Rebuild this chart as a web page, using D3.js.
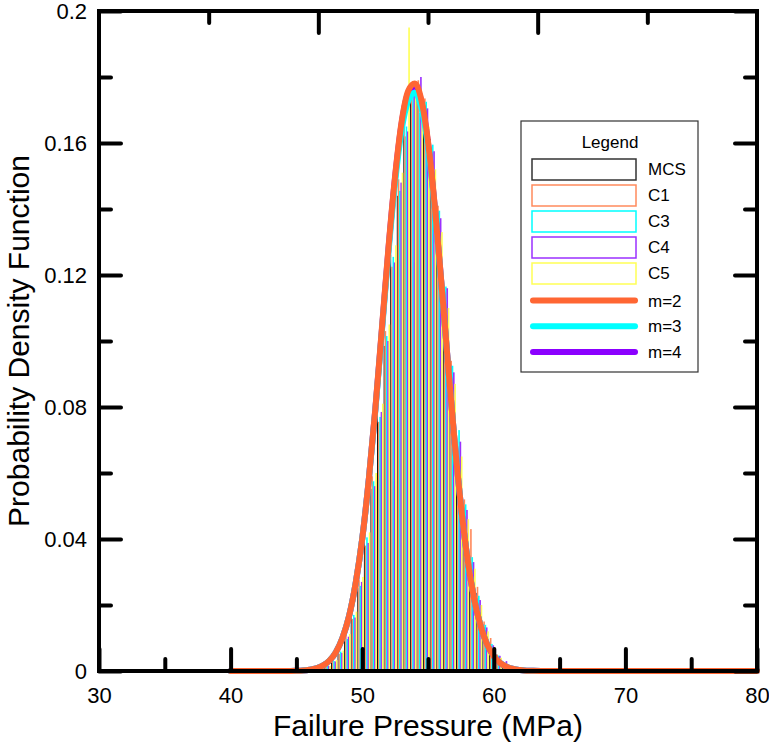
<!DOCTYPE html>
<html>
<head>
<meta charset="utf-8">
<script src="https://cdn.jsdelivr.net/npm/d3@7"></script>
<style>
body { margin: 0; background: #fff; }
text { font-family: "Liberation Sans", Arial, sans-serif; fill: #000; }
</style>
</head>
<body>
<svg width="769" height="742"></svg>
<script>
/* globals d3 */

// histogram bins (left edges, MPa)
const binWidth = 0.5;
const binLefts = d3.range(46.6, 62.6, binWidth);

const seriesNames = ['MCS', 'C1', 'C3', 'C4', 'C5'];
const seriesColors = ['#000000', '#ff8a5c', '#00ffff', '#9b30ff', '#ffff55'];

const mcs = [0.0006, 0.0018, 0.0028, 0.0060, 0.0094, 0.0172, 0.0251, 0.0410, 0.0552, 0.0790, 0.0985, 0.1262, 0.1440, 0.1668, 0.1735, 0.1760,
    0.1702, 0.1612, 0.1360, 0.1180, 0.0890, 0.0712, 0.0500, 0.0352, 0.0236, 0.0128, 0.0084, 0.0040, 0.0026, 0.0010, 0.0005, 0.0002];
const c1 = [0.0009, 0.0014, 0.0034, 0.0052, 0.0108, 0.0158, 0.0275, 0.0380, 0.0590, 0.0755, 0.1030, 0.1225, 0.1490, 0.1620, 0.1770, 0.1790,
    0.1735, 0.1560, 0.1410, 0.1125, 0.0940, 0.0668, 0.0520, 0.0430, 0.0255, 0.0150, 0.0100, 0.0050, 0.0020, 0.0014, 0.0004, 0.0003];
const c3 = [0.0007, 0.0017, 0.0030, 0.0059, 0.0097, 0.0170, 0.0258, 0.0405, 0.0575, 0.0770, 0.1015, 0.1255, 0.1455, 0.1650, 0.1745, 0.1692,
    0.1725, 0.1595, 0.1395, 0.1165, 0.0925, 0.0730, 0.0505, 0.0345, 0.0228, 0.0140, 0.0082, 0.0047, 0.0025, 0.0011, 0.0006, 0.0002];
const c4 = [0.0010, 0.0015, 0.0029, 0.0055, 0.0104, 0.0162, 0.0270, 0.0388, 0.0560, 0.0785, 0.1000, 0.1238, 0.1480, 0.1635, 0.1760, 0.1800,
    0.1705, 0.1575, 0.1372, 0.1160, 0.0905, 0.0695, 0.0488, 0.0330, 0.0215, 0.0132, 0.0078, 0.0046, 0.0030, 0.0015, 0.0008, 0.0004];
const c5 = [0.0008, 0.0016, 0.0033, 0.0062, 0.0112, 0.0180, 0.0285, 0.0420, 0.0600, 0.0810, 0.1050, 0.1290, 0.1510, 0.1950, 0.1740, 0.1710,
    0.1650, 0.1520, 0.1330, 0.1100, 0.0870, 0.0650, 0.0460, 0.0310, 0.0200, 0.0120, 0.0070, 0.0040, 0.0020, 0.0010, 0.0005, 0.0002];
const seriesValues = [mcs, c1, c3, c4, c5];

// fitted PDF curves
const curveX = [40, 44, 44.5, 45, 45.5, 46, 46.5, 47, 47.5, 48, 48.5, 49, 49.5, 50, 50.5, 51, 51.5, 52, 52.5, 53, 53.5,
    54, 54.5, 55, 55.5, 56, 56.5, 57, 57.5, 58, 58.5, 59, 59.5, 60, 60.5, 61, 61.5, 62, 62.5, 63, 64, 80];
const m2 = [0, 0.00001, 0.00003, 0.00007, 0.00017, 0.0004, 0.0008, 0.0016, 0.0031, 0.0057, 0.0100, 0.0166, 0.0265, 0.0400, 0.0580, 0.0795, 0.1040, 0.1285, 0.1500, 0.1665, 0.1758,
    0.1780, 0.1730, 0.1605, 0.1415, 0.1185, 0.0940, 0.0705, 0.0502, 0.0340, 0.0220, 0.0136, 0.0080, 0.0045, 0.0024, 0.0012, 0.0006, 0.0003, 0.0001, 0.00005, 0, 0];
const m3 = [0, 0.00001, 0.00003, 0.00007, 0.00017, 0.0004, 0.0008, 0.0016, 0.0031, 0.0057, 0.0100, 0.0166, 0.0265, 0.0400, 0.0578, 0.0790, 0.1030, 0.1270, 0.1480, 0.1640, 0.1728,
    0.1752, 0.1705, 0.1590, 0.1405, 0.1180, 0.0938, 0.0705, 0.0502, 0.0340, 0.0220, 0.0136, 0.0080, 0.0045, 0.0024, 0.0012, 0.0006, 0.0003, 0.0001, 0.00005, 0, 0];
const m4 = [0, 0.00001, 0.00003, 0.00007, 0.00017, 0.0004, 0.0008, 0.0016, 0.0031, 0.0057, 0.0100, 0.0166, 0.0265, 0.0400, 0.0580, 0.0793, 0.1036, 0.1280, 0.1495, 0.1660, 0.1752,
    0.1772, 0.1724, 0.1600, 0.1412, 0.1183, 0.0940, 0.0705, 0.0502, 0.0340, 0.0220, 0.0136, 0.0080, 0.0045, 0.0024, 0.0012, 0.0006, 0.0003, 0.0001, 0.00005, 0, 0];
const curveNames = ['m=2', 'm=3', 'm=4'];
const curveColors = ['#ff6633', '#00ffff', '#8b00ff'];
const curveValues = [m2, m3, m4];

// axis ticks
const xMajor = [30, 40, 50, 60, 70, 80];
const xMinor = [35, 45, 55, 65, 75];
const yMajor = [0, 0.04, 0.08, 0.12, 0.16, 0.2];
const yMinor = [0.02, 0.06, 0.1, 0.14, 0.18];
const yLabels = ['0', '0.04', '0.08', '0.12', '0.16', '0.2'];

const svg = d3.select('svg');
const plotLeft = 99;
const plotRight = 757;
const plotTop = 11;
const plotBottom = 671;

const x = d3.scaleLinear().domain([30, 80]).range([plotLeft, plotRight]);
const y = d3.scaleLinear().domain([0, 0.2]).range([plotBottom, plotTop]);
const sub = d3.scaleBand().domain(seriesNames).range([0, x(30 + binWidth) - x(30)]);
const topScale = d3.scaleLinear().domain([0, 6]).range([plotLeft, plotRight]);

// bars: the MCS stripe is partly covered by its neighbours
seriesNames.forEach((name, s) => {
    const w = s === 0 ? sub.bandwidth() * 0.7 : sub.bandwidth() + 0.3;
    svg.append('g')
    .selectAll('rect')
    .data(binLefts.map((b, i) => ({b: b, v: seriesValues[s][i]})))
    .enter().append('rect')
    .attr('x', d => x(d.b) + sub(name) + (s === 0 ? sub.bandwidth() * 0.3 : 0))
    .attr('y', d => y(d.v))
    .attr('width', w)
    .attr('height', d => y(0) - y(d.v))
    .attr('fill', seriesColors[s]);
});

// curves, m=2 on top
const line = d3.line()
.x(d => x(d[0]))
.y(d => y(d[1]))
.curve(d3.curveMonotoneX);

[2, 1, 0].forEach(k => {
    svg.append('path')
    .datum(curveX.map((v, i) => [v, curveValues[k][i]]))
    .attr('d', line)
    .attr('fill', 'none')
    .attr('stroke', curveColors[k])
    .attr('stroke-width', 6)
    .attr('stroke-linecap', 'round')
    .attr('stroke-linejoin', 'round');
});

// frame
svg.append('rect')
.attr('x', plotLeft)
.attr('y', plotTop)
.attr('width', plotRight - plotLeft)
.attr('height', plotBottom - plotTop)
.attr('fill', 'none')
.attr('stroke', '#000')
.attr('stroke-width', 4);

function styleAxis(g) {
    g.select('.domain').remove();
    g.selectAll('.tick line')
    .attr('stroke', '#000')
    .attr('stroke-width', 4)
    .attr('stroke-linecap', 'round');
    g.selectAll('.tick text')
    .style('font-size', '22px')
    .style('font-family', '"Liberation Sans", Arial, sans-serif');
}

svg.append('g')
.attr('transform', `translate(0,${plotBottom})`)
.call(d3.axisBottom(x).tickValues(xMajor).tickSize(-22).tickPadding(16).tickFormat(d3.format('d')))
.call(styleAxis);
svg.append('g')
.attr('transform', `translate(0,${plotBottom})`)
.call(d3.axisBottom(x).tickValues(xMinor).tickSize(-12).tickFormat(''))
.call(styleAxis);

svg.append('g')
.attr('transform', `translate(${plotLeft},0)`)
.call(d3.axisLeft(y).tickValues(yMajor).tickSize(-22).tickPadding(12).tickFormat((d, i) => yLabels[i]))
.call(styleAxis);
svg.append('g')
.attr('transform', `translate(${plotLeft},0)`)
.call(d3.axisLeft(y).tickValues(yMinor).tickSize(-12).tickFormat(''))
.call(styleAxis);

svg.append('g')
.attr('transform', `translate(${plotRight},0)`)
.call(d3.axisRight(y).tickValues(yMajor).tickSize(-22).tickFormat(''))
.call(styleAxis);
svg.append('g')
.attr('transform', `translate(${plotRight},0)`)
.call(d3.axisRight(y).tickValues(yMinor).tickSize(-12).tickFormat(''))
.call(styleAxis);

svg.append('g')
.attr('transform', `translate(0,${plotTop})`)
.call(d3.axisTop(topScale).tickValues([2, 4]).tickSize(-22).tickFormat(''))
.call(styleAxis);
svg.append('g')
.attr('transform', `translate(0,${plotTop})`)
.call(d3.axisTop(topScale).tickValues([1, 3, 5]).tickSize(-12).tickFormat(''))
.call(styleAxis);

// axis titles
svg.append('text')
.attr('x', (plotLeft + plotRight) / 2)
.attr('y', 736)
.attr('text-anchor', 'middle')
.style('font-size', '30px')
.text('Failure Pressure (MPa)');

svg.append('text')
.attr('transform', `translate(29,${(plotTop + plotBottom) / 2}) rotate(-90)`)
.attr('text-anchor', 'middle')
.style('font-size', '30px')
.text('Probability Density Function');

// legend
const legend = svg.append('g').attr('transform', 'translate(521,121)');
legend.append('rect')
.attr('x', 0)
.attr('y', 0)
.attr('width', 177)
.attr('height', 251)
.attr('fill', '#fff')
.attr('stroke', '#333')
.attr('stroke-width', 1.2);

legend.append('text')
.attr('x', 89)
.attr('y', 27)
.attr('text-anchor', 'middle')
.style('font-size', '17px')
.text('Legend');

const rowY = d3.scaleLinear().domain([0, 1]).range([48, 74]);

seriesNames.forEach((name, i) => {
    legend.append('rect')
    .attr('x', 11)
    .attr('y', rowY(i) - 10)
    .attr('width', 104)
    .attr('height', 21)
    .attr('fill', 'none')
    .attr('stroke', i === 0 ? '#333' : seriesColors[i])
    .attr('stroke-width', 1.5);
    legend.append('text')
    .attr('x', 127)
    .attr('y', rowY(i) + 6)
    .style('font-size', '17px')
    .text(name);
});

curveNames.forEach((name, k) => {
    const i = seriesNames.length + k;
    const cy = rowY(i) + 1.5 - k * 0.3;
    legend.append('line')
    .attr('x1', 12)
    .attr('x2', 114)
    .attr('y1', cy)
    .attr('y2', cy)
    .attr('stroke', curveColors[k])
    .attr('stroke-width', 6)
    .attr('stroke-linecap', 'round');
    legend.append('text')
    .attr('x', 127)
    .attr('y', cy + 6)
    .style('font-size', '17px')
    .text(name);
});
</script>
</body>
</html>
